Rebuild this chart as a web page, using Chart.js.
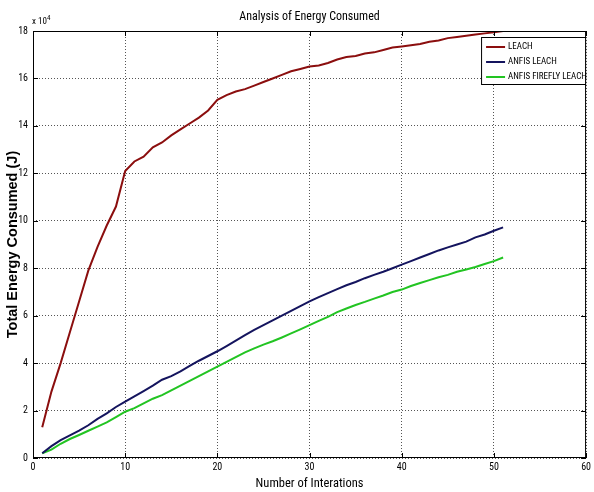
<!DOCTYPE html>
<html>
<head>
<meta charset="utf-8">
<script src="https://cdn.jsdelivr.net/npm/chart.js@4.4.1/dist/chart.umd.min.js"></script>
<style>
    html, body { margin: 0; padding: 0; background: #fff; }
</style>
</head>
<body>
<canvas id="energyChart" width="594" height="492"></canvas>
<script>
// iterations (x) and energy values, in units of 10^4 J
const iterations = [1, 2, 3, 4, 5, 6, 7, 8, 9, 10, 11, 12, 13, 14, 15, 16, 17, 18, 19, 20,
    21, 22, 23, 24, 25, 26, 27, 28, 29, 30, 31, 32, 33, 34, 35, 36, 37, 38, 39, 40,
    41, 42, 43, 44, 45, 46, 47, 48, 49, 50, 51];

const leach = [1.3, 2.8, 4.0, 5.3, 6.6, 7.9, 8.9, 9.8, 10.6, 12.1,
    12.5, 12.7, 13.1, 13.3, 13.6, 13.85, 14.1, 14.35, 14.65, 15.1,
    15.3, 15.45, 15.55, 15.7, 15.85, 16.0, 16.15, 16.3, 16.4, 16.5,
    16.55, 16.65, 16.8, 16.9, 16.95, 17.05, 17.1, 17.2, 17.3, 17.35,
    17.4, 17.45, 17.55, 17.6, 17.7, 17.75, 17.8, 17.85, 17.9, 17.95, 18.0];

const anfisLeach = [0.2, 0.5, 0.75, 0.95, 1.15, 1.38, 1.65, 1.88, 2.15, 2.38,
    2.6, 2.82, 3.05, 3.3, 3.45, 3.65, 3.88, 4.1, 4.3, 4.5,
    4.72, 4.95, 5.18, 5.4, 5.6, 5.8, 6.0, 6.2, 6.4, 6.6,
    6.78, 6.95, 7.12, 7.28, 7.42, 7.58, 7.72, 7.85, 8.0, 8.15,
    8.3, 8.45, 8.6, 8.75, 8.88, 9.0, 9.12, 9.3, 9.42, 9.58, 9.72];

const anfisFireflyLeach = [0.2, 0.35, 0.6, 0.8, 0.97, 1.15, 1.32, 1.5, 1.72, 1.95,
    2.1, 2.3, 2.5, 2.65, 2.85, 3.05, 3.25, 3.45, 3.65, 3.85,
    4.05, 4.25, 4.45, 4.62, 4.78, 4.92, 5.08, 5.25, 5.42, 5.6,
    5.78, 5.95, 6.15, 6.3, 6.45, 6.58, 6.72, 6.85, 7.0, 7.1,
    7.25, 7.38, 7.5, 7.62, 7.72, 7.85, 7.95, 8.05, 8.18, 8.3, 8.45];

const seriesNames = ['LEACH', 'ANFIS LEACH', 'ANFIS FIREFLY LEACH'];
const seriesColors = ['#8b0e0e', '#14145e', '#22c422'];

const narrow = "'Roboto Condensed', 'Liberation Sans', sans-serif";

const toPoints = (vals) => vals.map((v, i) => ({ x: iterations[i], y: v }));

// MATLAB style frame, inward ticks, title, exponent and boxed legend
const matlabFrame = {
    id: 'matlabFrame',
    afterDraw(chart) {
        const { ctx, chartArea: a, scales } = chart;
        ctx.save();
        ctx.strokeStyle = '#000';
        ctx.lineWidth = 1;
        ctx.setLineDash([]);
        ctx.strokeRect(a.left + 0.5, a.top + 0.5, a.right - a.left - 1, a.bottom - a.top - 1);

        ctx.beginPath();
        scales.x.ticks.forEach(t => {
            const px = Math.round(scales.x.getPixelForValue(t.value)) + 0.5;
            ctx.moveTo(px, a.bottom); ctx.lineTo(px, a.bottom - 5);
            ctx.moveTo(px, a.top); ctx.lineTo(px, a.top + 5);
        });
        scales.y.ticks.forEach(t => {
            const py = Math.round(scales.y.getPixelForValue(t.value)) + 0.5;
            ctx.moveTo(a.left, py); ctx.lineTo(a.left + 5, py);
            ctx.moveTo(a.right, py); ctx.lineTo(a.right - 5, py);
        });
        ctx.stroke();

        // title
        ctx.fillStyle = '#000';
        ctx.font = '12px ' + narrow;
        ctx.textAlign = 'center';
        ctx.textBaseline = 'middle';
        ctx.fillText('Analysis of Energy Consumed', (a.left + a.right) / 2, 17);

        // exponent label
        ctx.textAlign = 'left';
        ctx.font = '9px ' + narrow;
        ctx.fillText('x 10', a.left - 1, a.top - 9);
        ctx.font = '7px ' + narrow;
        ctx.fillText('4', a.left + 14, a.top - 13);

        // legend box
        const bx = a.right - 105, by = a.top + 6, bw = 105, bh = 48;
        ctx.fillStyle = '#fff';
        ctx.fillRect(bx, by, bw, bh);
        ctx.strokeStyle = '#000';
        ctx.strokeRect(bx + 0.5, by + 0.5, bw - 1, bh - 1);
        ctx.font = '9px ' + narrow;
        chart.data.datasets.forEach((ds, i) => {
            const ly = by + 10 + i * 15;
            ctx.strokeStyle = ds.borderColor;
            ctx.lineWidth = 2;
            ctx.beginPath();
            ctx.moveTo(bx + 5, ly); ctx.lineTo(bx + 24, ly);
            ctx.stroke();
            ctx.fillStyle = '#000';
            ctx.fillText(ds.label, bx + 27, ly);
        });
        ctx.restore();
    }
};

const ctx = document.getElementById('energyChart').getContext('2d');

new Chart(ctx, {
    type: 'line',
    data: {
        datasets: [
            { label: seriesNames[0], data: toPoints(leach), borderColor: seriesColors[0] },
            { label: seriesNames[1], data: toPoints(anfisLeach), borderColor: seriesColors[1] },
            { label: seriesNames[2], data: toPoints(anfisFireflyLeach), borderColor: seriesColors[2] }
        ]
    },
    options: {
        responsive: false,
        animation: false,
        events: [],
        layout: { padding: { top: 31, right: 3, left: 0, bottom: 0 } },
        elements: {
            point: { radius: 0 },
            line: { borderWidth: 2, tension: 0, fill: false }
        },
        scales: {
            x: {
                type: 'linear',
                min: 0,
                max: 60,
                ticks: { stepSize: 10, color: '#000', padding: 3, maxRotation: 0, font: { family: narrow, size: 10 } },
                grid: { color: '#555', drawTicks: false, lineWidth: 1 },
                border: { display: false, dash: [1, 2] },
                title: { display: true, text: 'Number of Interations', color: '#000', padding: { top: 0, bottom: 1 }, font: { family: narrow, size: 12.5 } },
                afterFit(scale) { scale.height = 34; }
            },
            y: {
                min: 0,
                max: 18,
                ticks: { stepSize: 2, color: '#000', padding: 5, font: { family: narrow, size: 10 } },
                grid: { color: '#555', drawTicks: false, lineWidth: 1 },
                border: { display: false, dash: [1, 2] },
                title: { display: true, text: 'Total Energy Consumed (J)', color: '#000', padding: { top: 4, bottom: 0 }, font: { family: "'Liberation Sans', Arial, sans-serif", size: 14.5, weight: 'bold' } },
                afterFit(scale) { scale.width = 33; }
            }
        },
        plugins: {
            legend: { display: false },
            title: { display: false },
            tooltip: { enabled: false }
        }
    },
    plugins: [matlabFrame]
});
</script>
</body>
</html>
